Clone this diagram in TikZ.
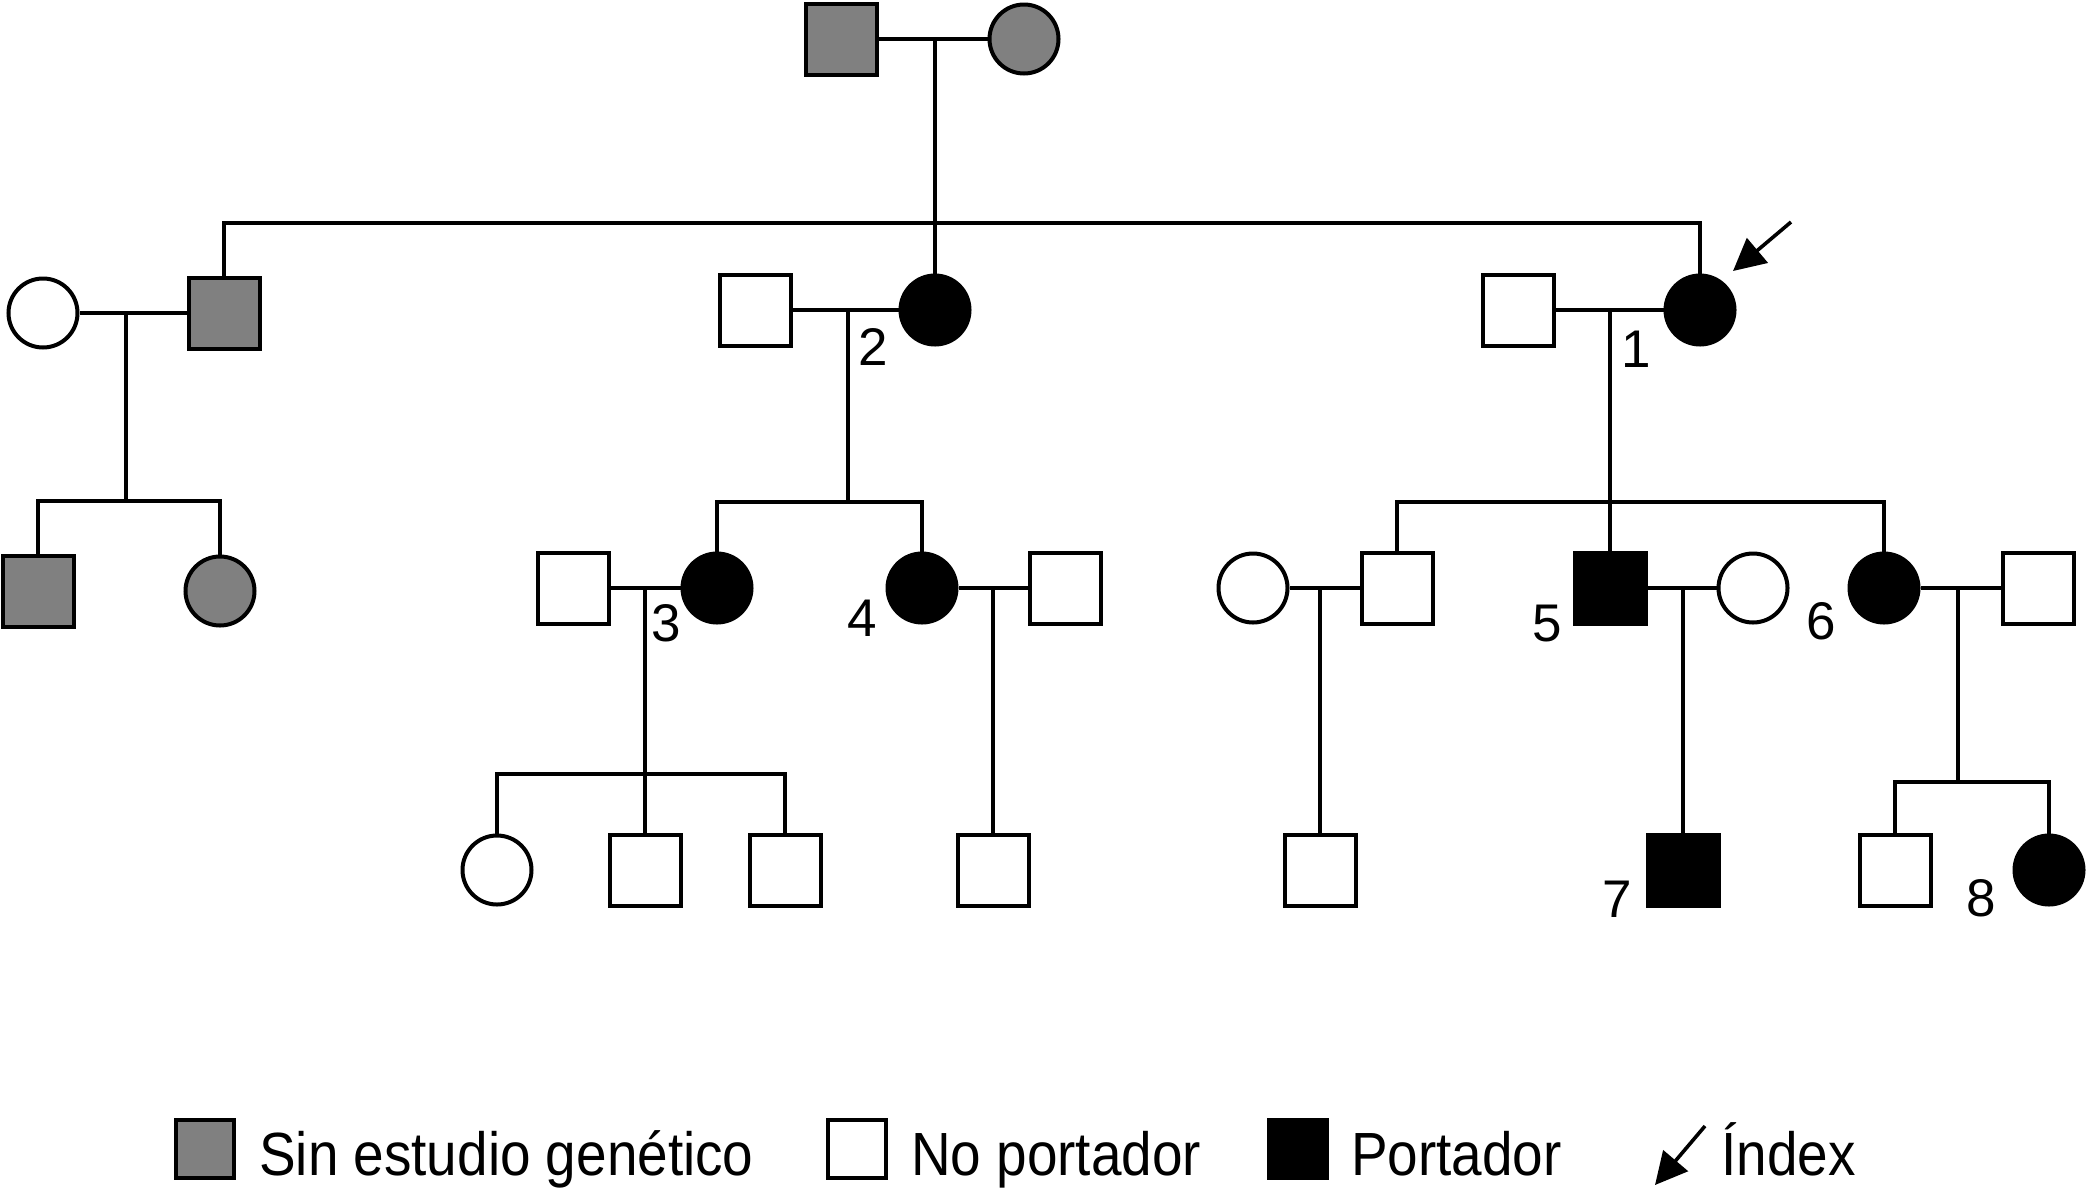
\documentclass[tikz,border=0pt]{standalone}
\usepackage{fontspec}
\setmainfont{Liberation Sans}
\newfontfamily\legfont{Liberation Sans}[FakeStretch=0.9]
\usetikzlibrary{arrows.meta}
\definecolor{shgray}{HTML}{808080}
\begin{document}
\begin{tikzpicture}[x=1pt,y=-1pt,
  sq/.style={draw, line width=4pt, shape=rectangle, minimum size=71pt, inner sep=0pt},
  ci/.style={draw, line width=4pt, shape=circle, minimum size=69pt, inner sep=0pt},
  ung/.style={fill=shgray},
  carr/.style={fill=black},
  noncarr/.style={fill=white},
  ln/.style={line width=3.6pt},
  lbl/.style={anchor=base west, inner sep=0pt, font=\fontsize{53}{60}\selectfont},
  legtext/.style={anchor=base west, inner sep=0pt, font=\legfont\fontsize{61}{70}\selectfont},
  idx/.style={line width=3.6pt, -{Triangle[length=32pt,width=32pt]}}
]
\useasboundingbox (0,0) rectangle (2090,1187);

% Generation I
\node[sq,ung] (I1) at (841,39) {};
\node[ci,ung] (I2) at (1024,39) {};

% Generation II
\node[ci,noncarr] (II1) at (43,313) {};
\node[sq,ung] (II2) at (224,313) {};
\node[sq,noncarr] (II3) at (755,310) {};
\node[ci,carr] (II4) at (935,310) {};
\node[sq,noncarr] (II5) at (1518,310) {};
\node[ci,carr] (II6) at (1700,310) {};

% Generation III
\node[sq,ung] (III1) at (38,591) {};
\node[ci,ung] (III2) at (220,591) {};
\node[sq,noncarr] (III5) at (573,588) {};
\node[ci,carr] (III3) at (717,588) {};
\node[ci,carr] (III4) at (922,588) {};
\node[sq,noncarr] (III6) at (1065,588) {};
\node[ci,noncarr] (III9) at (1253,588) {};
\node[sq,noncarr] (III7) at (1397,588) {};
\node[sq,carr] (III8) at (1610,588) {};
\node[ci,noncarr] (III11) at (1753,588) {};
\node[ci,carr] (III10) at (1884,588) {};
\node[sq,noncarr] (III12) at (2038,588) {};

% Generation IV
\node[ci,noncarr] (IV1) at (497,870) {};
\node[sq,noncarr] (IV2) at (645,870) {};
\node[sq,noncarr] (IV3) at (785,870) {};
\node[sq,noncarr] (IV4) at (993,870) {};
\node[sq,noncarr] (IV5) at (1320,870) {};
\node[sq,carr] (IV6) at (1683,870) {};
\node[sq,noncarr] (IV7) at (1895,870) {};
\node[ci,carr] (IV8) at (2049,870) {};

% coordinates
\coordinate (m1) at (935,39);
\coordinate (s1) at (935,223);
\coordinate (m2) at (126,313);
\coordinate (s2) at (126,501);
\coordinate (m3) at (848,310);
\coordinate (s3) at (848,502);
\coordinate (m4) at (1610,310);
\coordinate (s4) at (1610,502);
\coordinate (m5) at (645,588);
\coordinate (s5) at (645,774);
\coordinate (m6) at (993,588);
\coordinate (m7) at (1320,588);
\coordinate (m8) at (1683,588);
\coordinate (m9) at (1958,588);
\coordinate (s6) at (1958,782);

% couple lines
\draw[ln] (I1.east) -- (I2.west);
\draw[ln] (II1.east) -- (II2.west);
\draw[ln] (II3.east) -- (II4.west);
\draw[ln] (II5.east) -- (II6.west);
\draw[ln] (III5.east) -- (III3.west);
\draw[ln] (III4.east) -- (III6.west);
\draw[ln] (III9.east) -- (III7.west);
\draw[ln] (III8.east) -- (III11.west);
\draw[ln] (III10.east) -- (III12.west);

% descent lines
\draw[ln] (m1) -- (II4.north);
\draw[ln] (II2.north) |- (s1) -| (II6.north);
\draw[ln] (m2) -- (s2);
\draw[ln] (III1.north) |- (s2) -| (III2.north);
\draw[ln] (m3) -- (s3);
\draw[ln] (III3.north) |- (s3) -| (III4.north);
\draw[ln] (m4) -- (III8.north);
\draw[ln] (III7.north) |- (s4) -| (III10.north);
\draw[ln] (m5) -- (IV2.north);
\draw[ln] (IV1.north) |- (s5) -| (IV3.north);
\draw[ln] (m6) -- (IV4.north);
\draw[ln] (m7) -- (IV5.north);
\draw[ln] (m8) -- (IV6.north);
\draw[ln] (m9) -- (s6);
\draw[ln] (IV7.north) |- (s6) -| (IV8.north);

% labels
\node[lbl] (L1) at (1621,367) {1};
\node[lbl] (L2) at (858,365) {2};
\node[lbl] (L3) at (651,641) {3};
\node[lbl] (L4) at (847,636) {4};
\node[lbl] (L5) at (1532,641) {5};
\node[lbl] (L6) at (1806,639) {6};
\node[lbl] (L7) at (1602,917) {7};
\node[lbl] (L8) at (1966,916) {8};

% index arrow
\coordinate (a1s) at (1791,222);
\coordinate (a1e) at (1733,271);
\draw[idx] (a1s) -- (a1e);

% legend
\node[sq,ung,minimum size=58pt] (K1) at (205,1149) {};
\node[legtext] (T1) at (259,1175) {Sin estudio genético};
\node[sq,noncarr,minimum size=58pt] (K2) at (857,1149) {};
\node[legtext] (T2) at (911,1175) {No portador};
\node[sq,carr,minimum size=58pt] (K3) at (1298,1149) {};
\node[legtext] (T3) at (1351,1175) {Portador};
\coordinate (a2s) at (1705,1126);
\coordinate (a2e) at (1655,1185);
\draw[idx] (a2s) -- (a2e);
\node[legtext] (T4) at (1721,1175) {Índex};
\end{tikzpicture}
\end{document}
